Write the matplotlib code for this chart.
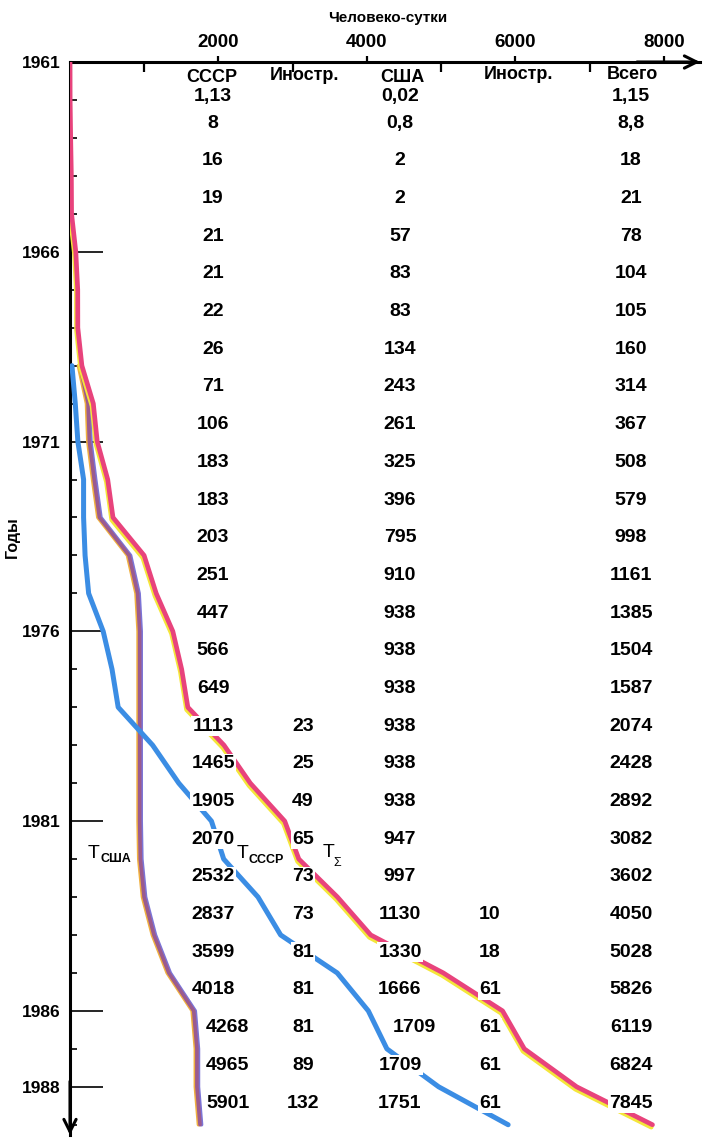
import matplotlib
matplotlib.use("Agg")
import matplotlib.pyplot as plt
import matplotlib.patheffects as pe

# cumulative person-days in space, by year
years = list(range(1961, 1989))
ussr = [1.13, 8, 16, 19, 21, 21, 22, 26, 71, 106, 183, 183, 203, 251, 447,
        566, 649, 1113, 1465, 1905, 2070, 2532, 2837, 3599, 4018, 4268, 4965, 5901]
foreign_ussr = [None] * 17 + [23, 25, 49, 65, 73, 73, 81, 81, 81, 89, 132]
usa = [0.02, 0.8, 2, 2, 57, 83, 83, 134, 243, 261, 325, 396, 795, 910, 938,
       938, 938, 938, 938, 938, 947, 997, 1130, 1330, 1666, 1709, 1709, 1751]
foreign_usa = [None] * 22 + [10, 18, 61, 61, 61, 61]
total = [1.15, 8.8, 18, 21, 78, 104, 105, 160, 314, 367, 508, 579, 998, 1161, 1385,
         1504, 1587, 2074, 2428, 2892, 3082, 3602, 4050, 5028, 5826, 6119, 6824, 7845]

headers = ["СССР", "Иностр.", "США", "Иностр.", "Всего"]
year_labels = [1961, 1966, 1971, 1976, 1981, 1986, 1988]
x_major = [2000, 4000, 6000, 8000]
x_minor = [1000, 3000, 5000, 7000]

NARROW = ["Liberation Sans Narrow", "Liberation Sans", "DejaVu Sans"]
SANS = ["Liberation Sans", "DejaVu Sans"]


def fmt(v):
    return f"{v:g}".replace(".", ",")


fig = plt.figure(figsize=(7.04, 11.38), dpi=100)
ax = fig.add_axes([70 / 704, 3 / 1138, 630 / 704, 1073 / 1138])
ax.set_xlim(0, 8485)
ax.set_ylim(1989.27, 1961)

# curves: value at the end of each year
end_of_year = [y + 1 for y in years]
start = years.index(1968)

ax.plot([0] + total, [1961] + end_of_year, color="#e8437c", lw=3.4,
        solid_capstyle="round", zorder=3,
        path_effects=[pe.SimpleLineShadow(offset=(-0.9, -1.7), shadow_color="#f4e63a",
                                          alpha=1, rho=1), pe.Normal()])
ax.plot(usa[start:], end_of_year[start:], color="#9b5b8e", lw=2.6,
        solid_capstyle="round", zorder=2,
        path_effects=[pe.SimpleLineShadow(offset=(-1.1, 0), shadow_color="#f0b040",
                                          alpha=1, rho=1),
                      pe.SimpleLineShadow(offset=(1.1, 0), shadow_color="#7c74d6",
                                          alpha=1, rho=1),
                      pe.Normal()])
ax.plot(ussr[start:], end_of_year[start:], color="#3b8de4", lw=3.6,
        solid_capstyle="round", zorder=4)

# table
col_x = [1926, 3138, 4444, 5657, 7556]
head_x = [1912, 3165, 4471, 6034, 7569]
head_y = [1961.42, 1961.36, 1961.42, 1961.32, 1961.32]
row_y = [1961.92] + [1962.61 + 0.993 * i for i in range(len(years) - 1)]

box = dict(facecolor="white", edgecolor="none", pad=1)
for name, x, y in zip(headers, head_x, head_y):
    ax.text(x, y, name, ha="center", va="center", fontsize=13, fontweight="bold",
            family=NARROW, zorder=6)

columns = [ussr, foreign_ussr, usa, foreign_usa, total]
for c, values in enumerate(columns):
    for i, v in enumerate(values):
        if v is None:
            continue
        x = col_x[c]
        if c == 0 and years[i] >= 1986:
            x += 200
        if c == 2 and years[i] == 1986:
            x += 200
        ax.text(x, row_y[i], fmt(v), ha="center", va="center", fontsize=14,
                fontweight="bold", family=NARROW, bbox=box, zorder=6)

# curve labels
for x, y, sub, dx, dy, sub_w, sub_size in [(242, 1981.97, "США", 9, -3, "bold", 9),
                                          (2249, 1981.97, "СССР", 8.5, -4, "bold", 9),
                                          (3407, 1981.94, "Σ", 7.5, -6.5, "normal", 9)]:
    ax.text(x, y, "T", fontsize=14, family=SANS, va="baseline", ha="left", zorder=6)
    ax.annotate(sub, (x, y), xytext=(dx, dy), textcoords="offset points",
                fontsize=sub_size, fontweight=sub_w, family=SANS,
                va="baseline", ha="left", zorder=6)

# axes
for s in ["right", "bottom"]:
    ax.spines[s].set_visible(False)
for s in ["left", "top"]:
    ax.spines[s].set_linewidth(2.2)

ax.xaxis.tick_top()
ax.set_xticks(x_major)
ax.set_xticks(x_minor, minor=True)
ax.tick_params(axis="x", which="major", direction="out", length=4, width=1.6, pad=4)
ax.tick_params(axis="x", which="minor", direction="in", length=7, width=1.6)
ax.set_xticklabels([str(v) for v in x_major], fontsize=13.5, fontweight="bold",
                   family=NARROW)

ax.set_yticks(year_labels)
ax.set_yticks(years + [1989], minor=True)
ax.tick_params(axis="y", which="major", direction="in", length=24, width=1.2, pad=7)
ax.tick_params(axis="y", which="minor", direction="in", length=5, width=1.2)
ax.set_yticklabels([str(v) for v in year_labels], fontsize=12.5, fontweight="bold",
                   family=SANS)

ax.annotate("", xy=(1.0, 1.0), xytext=(0.9, 1.0), xycoords="axes fraction",
            arrowprops=dict(arrowstyle="->", lw=2.2, mutation_scale=22,
                            shrinkA=0, shrinkB=0))
ax.annotate("", xy=(0.0, 0.0), xytext=(0.0, 0.05), xycoords="axes fraction",
            arrowprops=dict(arrowstyle="->", lw=2.2, mutation_scale=22,
                            shrinkA=0, shrinkB=0))

fig.text(388 / 704, 1 - 18 / 1138, "Человеко-сутки", ha="center", va="center",
         fontsize=11, fontweight="bold", family=NARROW)
fig.text(12 / 704, 1 - 537 / 1138, "Годы", ha="center", va="center", rotation=90,
         fontsize=11.5, fontweight="bold", family=SANS)

fig.savefig("out.png", dpi=100)
plt.close(fig)
